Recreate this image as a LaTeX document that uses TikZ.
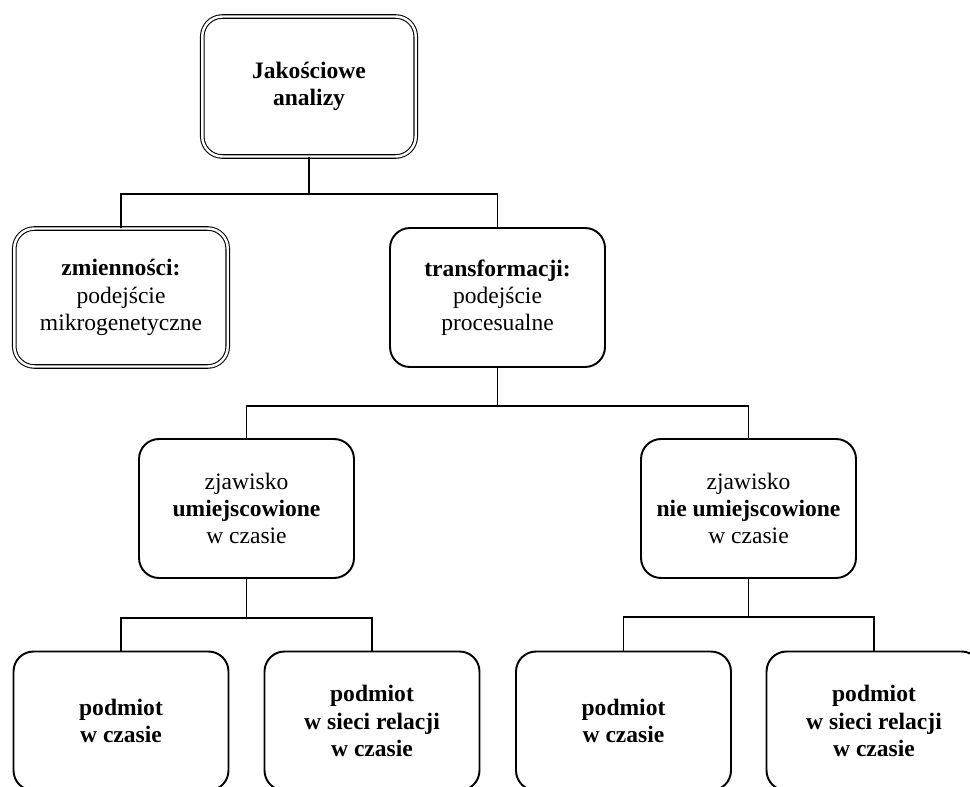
\documentclass[tikz,border=0pt]{standalone}
\usepackage{fontspec}
\setmainfont{Liberation Serif}
\begin{document}
\begin{tikzpicture}[
    x=0.02cm, y=-0.02cm,
    font=\fontsize{13.4}{15.5}\selectfont,
    box/.style={draw, line width=1.1pt, rounded corners=0.4cm, align=center,
        minimum width=4.3cm, minimum height=2.78cm, inner sep=0pt},
    twin/.style={box, line width=0.6pt, double, double distance=1.4pt,
        minimum width=4.27cm},
    link/.style={line width=1.1pt}
]
\clip (0,0) rectangle (970,787);
\node[twin, minimum height=2.8cm] (root) at (309,86.5) {\textbf{Jakościowe}\\\textbf{analizy}};
\node[twin, minimum height=2.76cm] (zmien) at (121,297.5) {\textbf{zmienności:}\\podejście\\mikrogenetyczne};
\node[box] (transf) at (497.5,297.5) {\textbf{transformacji:}\\podejście\\procesualne};
\node[box] (umiej) at (246.5,508.5) {zjawisko\\\textbf{umiejscowione}\\w czasie};
\node[box] (nieumiej) at (748.5,508.5) {zjawisko\\\textbf{nie umiejscowione}\\w czasie};
\node[box] (pc1) at (121,721) {\textbf{podmiot}\\\textbf{w czasie}};
\node[box] (psr1) at (372,721) {\textbf{podmiot}\\\textbf{w sieci relacji}\\\textbf{w czasie}};
\node[box] (pc2) at (623.5,721) {\textbf{podmiot}\\\textbf{w czasie}};
\node[box] (psr2) at (874,721) {\textbf{podmiot}\\\textbf{w sieci relacji}\\\textbf{w czasie}};
% elbows
\coordinate (j1) at (root.south |- 0,194);
\coordinate (j2) at (transf.south |- 0,406);
\coordinate (j3) at (umiej.south |- 0,618);
\coordinate (j4) at (nieumiej.south |- 0,617);
\draw[link] (root.south) -- (j1) -| (zmien.north);
\draw[link] (j1) -| (transf.north);
\draw[link] (transf.south) -- (j2) -| (umiej.north);
\draw[link] (j2) -| (nieumiej.north);
\draw[link] (umiej.south) -- (j3) -| (pc1.north);
\draw[link] (j3) -| (psr1.north);
\draw[link] (nieumiej.south) -- (j4) -| (pc2.north);
\draw[link] (j4) -| (psr2.north);
\end{tikzpicture}
\end{document}
